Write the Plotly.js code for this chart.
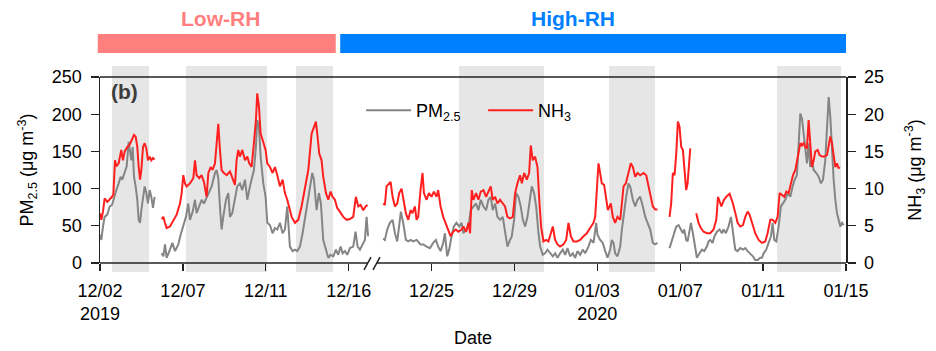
<!DOCTYPE html>
<html>
<head>
<meta charset="utf-8">
<script src="https://cdn.plot.ly/plotly-3.0.1.min.js"></script>
<style>html,body{margin:0;padding:0;background:#fff;}#chart{width:936px;height:351px;}</style>
</head>
<body>
<div id="chart"></div>
<script>
// ---- Tick labels (evenly spaced positions on the axis) ----
const tickPos = [0,1,2,3,4,5,6,7,8,9];
const tickLabels = ['12/02<br>2019','12/07','12/11','12/16','12/25','12/29','01/03<br>2020','01/07','01/11','01/15'];

// ---- PM2.5 (µg m-3), x in axis position units; null = data gap ----
const pmX = [
 0.00,0.016,0.036,0.056,0.088,0.117,0.145,0.169,0.197,0.225,0.249,0.269,0.298,0.322,0.346,0.362,0.378,0.394,0.410,0.430,0.450,0.466,0.483,0.499,0.519,0.539,0.559,0.579,0.599,0.619,0.639,0.659,
 0.70,
 0.744,0.764,0.784,0.804,0.844,0.873,0.905,0.945,0.973,1.005,1.037,1.065,1.085,1.118,1.146,1.166,1.198,1.226,1.254,1.286,1.319,1.347,1.387,1.407,1.427,1.447,1.467,1.487,1.520,1.548,1.568,1.596,1.628,1.656,1.688,1.717,1.749,1.777,1.809,1.837,1.857,1.881,1.897,1.918,1.938,1.970,1.998,2.018,2.050,2.082,2.111,2.139,2.171,2.203,2.231,2.259,2.291,2.324,2.352,2.380,2.412,2.444,2.472,2.500,2.533,2.561,2.581,2.613,2.641,2.665,2.693,2.726,2.754,2.782,2.814,2.846,2.874,2.903,2.927,2.955,2.983,3.015,3.055,3.083,3.108,3.136,3.168,3.196,3.216,3.234,
 3.30,
 3.417,3.437,3.465,3.497,3.530,3.558,3.586,3.610,3.630,3.658,3.690,3.719,3.747,3.779,3.819,3.867,3.899,3.940,3.980,4.020,4.052,4.080,4.109,4.141,4.161,4.189,4.213,4.241,4.269,4.301,4.334,4.362,4.384,4.417,4.445,4.473,4.505,4.537,4.565,4.594,4.626,4.658,4.686,4.714,4.738,4.767,4.795,4.827,4.859,4.887,4.915,4.940,4.968,4.996,5.020,5.048,5.076,5.101,5.129,5.157,5.181,5.209,5.237,5.262,5.290,5.310,5.342,5.370,5.398,5.431,5.463,5.491,5.519,5.551,5.583,5.612,5.640,5.672,5.704,5.732,5.761,5.793,5.825,5.853,5.893,5.922,5.954,5.986,6.002,6.034,6.066,6.095,6.123,6.155,6.175,6.195,6.215,6.243,6.276,6.296,6.324,6.348,6.376,6.396,6.429,6.457,6.485,6.517,6.549,6.578,6.606,6.638,6.670,6.698,6.726,
 6.80,
 6.871,6.899,6.928,6.952,6.980,7.008,7.032,7.048,7.072,7.089,7.113,7.129,7.153,7.177,7.201,7.233,7.262,7.290,7.322,7.342,7.362,7.390,7.414,7.443,7.475,7.503,7.523,7.551,7.583,7.612,7.636,7.664,7.692,7.724,7.757,7.785,7.813,7.845,7.877,7.905,7.934,7.966,7.986,8.006,8.038,8.066,8.095,8.115,8.135,8.159,8.187,8.215,8.239,8.268,8.296,8.328,8.356,8.380,8.408,8.428,8.449,8.469,8.489,8.509,8.529,8.549,8.569,8.589,8.610,8.642,8.670,8.698,8.722,8.750,8.771,8.791,8.811,8.831,8.851,8.871,8.891,8.911,8.932,8.952,8.972
];
const pmVal = [
 38,31,49,62,65,76,78,89,98,107,116,112,121,130,163,150,138,156,116,103,85,58,54,71,85,103,94,80,98,89,74,89,
 null,
 13,9,25,7,18,27,16,25,38,49,62,80,58,69,85,67,76,85,80,87,96,103,121,125,114,76,45,62,85,94,62,67,85,103,107,98,112,85,103,116,125,156,192,183,143,107,89,54,51,40,47,45,54,40,45,76,22,16,18,16,22,40,58,80,103,121,112,71,94,80,31,16,7,11,9,18,11,22,13,16,11,20,22,42,22,18,25,31,62,36,
 null,
 33,31,45,54,58,40,29,49,69,54,31,29,31,29,31,25,25,22,20,27,31,22,16,27,40,9,18,36,49,54,49,54,40,45,49,71,76,80,71,85,76,71,85,89,71,80,62,58,62,40,22,29,36,58,94,89,76,58,49,62,80,103,94,76,40,22,11,13,18,13,9,13,7,13,18,11,20,9,13,7,16,11,18,13,22,31,27,54,38,31,27,16,7,18,31,27,13,9,22,45,71,89,107,103,85,76,85,89,76,62,54,45,27,25,27,
 null,
 20,31,40,49,51,45,40,45,31,29,45,54,40,22,7,13,18,16,22,29,31,27,36,42,45,40,45,40,49,62,40,18,16,20,18,20,16,13,9,4,4,7,7,13,18,27,36,54,31,29,49,76,80,85,94,89,103,112,118,170,201,194,174,161,134,161,129,138,125,121,116,107,112,138,192,223,196,143,112,85,67,58,49,54,51
];

// ---- NH3 (µg m-3), x in axis position units; null = data gap ----
const nh3X = [
 0.00,0.016,0.036,0.056,0.088,0.117,0.145,0.161,0.181,0.197,0.225,0.257,0.277,0.298,0.330,0.358,0.386,0.410,0.430,0.450,0.466,0.483,0.499,0.519,0.539,0.559,0.579,0.599,0.619,0.639,0.659,
 0.70,
 0.744,0.764,0.784,0.804,0.844,0.884,0.925,0.965,0.985,1.005,1.025,1.045,1.085,1.126,1.146,1.166,1.198,1.226,1.254,1.286,1.307,1.335,1.359,1.387,1.407,1.427,1.447,1.467,1.495,1.528,1.568,1.608,1.628,1.648,1.668,1.688,1.717,1.749,1.777,1.801,1.829,1.857,1.881,1.897,1.918,1.938,1.970,1.998,2.018,2.050,2.082,2.111,2.139,2.171,2.203,2.231,2.259,2.283,2.312,2.352,2.392,2.432,2.472,2.513,2.553,2.581,2.605,2.621,2.645,2.673,2.693,2.726,2.754,2.782,2.806,2.834,2.862,2.894,2.935,2.975,3.015,3.055,3.087,3.116,3.144,3.176,3.204,3.228,
 3.30,
 3.417,3.437,3.457,3.485,3.506,3.530,3.558,3.586,3.610,3.638,3.658,3.690,3.719,3.747,3.771,3.799,3.819,3.839,3.867,3.891,3.908,3.940,3.968,4.000,4.028,4.060,4.080,4.109,4.141,4.169,4.201,4.229,4.261,4.293,4.322,4.362,4.384,4.417,4.445,4.465,4.485,4.505,4.537,4.565,4.594,4.626,4.658,4.686,4.714,4.738,4.767,4.795,4.827,4.859,4.887,4.915,4.948,4.980,5.008,5.036,5.068,5.089,5.117,5.149,5.177,5.197,5.221,5.249,5.278,5.302,5.322,5.350,5.382,5.410,5.439,5.463,5.491,5.519,5.551,5.592,5.624,5.652,5.680,5.712,5.753,5.793,5.833,5.873,5.913,5.954,5.974,5.994,6.014,6.034,6.054,6.082,6.107,6.127,6.147,6.163,6.187,6.215,6.243,6.276,6.296,6.316,6.344,6.376,6.404,6.429,6.457,6.485,6.517,6.557,6.590,6.618,6.646,6.670,6.698,6.726,
 6.80,
 6.871,6.891,6.911,6.932,6.952,6.972,6.992,7.012,7.032,7.052,7.072,7.089,7.105,7.121,
 7.16,
 7.193,7.221,7.249,7.282,7.322,7.362,7.402,7.435,7.456,7.496,7.528,7.556,7.596,7.636,7.676,7.692,7.724,7.757,7.785,7.813,7.837,7.865,7.905,7.946,7.986,8.026,8.054,8.087,8.115,8.147,8.175,8.199,8.227,8.256,8.280,8.308,8.336,8.360,8.389,8.409,8.429,8.449,8.469,8.489,8.509,8.529,8.549,8.569,8.589,8.610,8.630,8.658,8.682,8.710,8.738,8.771,8.791,8.811,8.831,8.851,8.871,8.891,8.911,8.923
];
const nh3Val = [
 6.7,5.8,6.9,8.7,8.2,8.5,8.9,9.2,13.8,13.0,13.4,15.2,13.8,15.0,15.6,15.9,16.5,17.2,17.0,15.6,13.0,11.2,12.5,15.6,16.1,15.4,13.8,14.3,13.8,14.1,13.9,
 null,
 5.9,6.2,5.4,4.7,4.9,5.8,6.5,8.0,9.4,11.8,10.7,10.3,10.7,11.4,13.8,11.8,11.4,11.8,10.9,8.9,12.1,12.9,12.5,13.4,16.5,18.7,15.2,12.5,12.1,11.8,12.3,11.2,10.5,13.8,15.2,14.3,15.2,13.8,14.3,13.4,12.9,16.1,19.2,22.8,21.0,17.4,16.1,15.2,13.4,12.9,12.1,12.9,11.8,10.3,11.2,9.4,8.5,7.6,6.2,5.4,5.8,7.6,10.3,12.5,17.4,18.3,19.0,17.4,14.7,13.8,11.6,9.4,8.5,9.6,8.9,8.5,7.4,6.9,6.2,5.8,5.9,6.2,8.9,7.6,7.8,7.1,7.6,7.8,
 null,
 8.0,7.8,10.3,10.7,10.9,8.9,7.6,8.0,9.4,10.0,8.9,6.7,5.8,7.1,6.7,7.6,5.8,6.2,9.8,12.1,9.4,8.5,9.4,8.9,9.6,8.9,9.8,7.6,6.2,5.4,4.5,3.6,4.2,4.5,4.2,4.5,4.9,4.2,5.4,4.0,9.8,8.5,9.4,8.5,9.6,9.8,8.9,9.6,10.3,8.5,8.9,8.0,8.5,8.0,7.6,6.2,6.0,6.2,9.4,10.7,11.8,10.7,12.1,11.2,12.1,15.8,13.8,14.3,12.9,8.0,4.9,2.9,3.1,2.9,4.2,4.9,3.1,2.5,2.2,2.5,3.1,5.4,3.6,2.9,2.9,3.1,3.6,4.0,4.7,5.4,6.2,9.8,13.4,12.1,10.7,10.5,8.5,7.1,7.6,8.0,6.2,5.4,6.2,5.8,8.0,10.3,10.7,12.1,13.4,12.9,11.6,12.1,11.8,12.1,11.8,10.3,8.9,7.6,7.2,7.2,
 null,
 6.2,8.0,12.1,11.8,14.7,19.0,18.3,15.6,15.2,12.5,9.8,10.7,13.8,15.4,
 null,
 6.7,5.4,4.7,4.2,4.0,4.0,4.5,5.8,8.9,7.6,8.5,8.9,9.3,8.0,6.2,5.4,4.9,5.1,6.2,6.9,6.5,5.4,4.0,3.1,2.7,2.9,4.0,5.8,5.8,5.4,6.2,9.4,9.2,8.9,9.6,9.4,10.7,11.8,12.5,13.8,15.2,16.1,15.8,16.1,15.6,15.4,19.2,15.6,12.9,13.8,15.0,15.2,14.5,14.3,14.3,14.5,16.1,17.0,16.1,14.3,12.9,13.4,12.7,12.9
];

// ---- Shaded periods (axis position units) ----
const shadeStart = [0.145, 1.037, 2.365, 4.331, 6.141, 8.168];
const shadeEnd   = [0.591, 2.015, 2.811, 5.357, 6.696, 8.940];

// ---- RH regimes (fraction of plot width) ----
const rhNames  = ['Low-RH', 'High-RH'];
const rhStart  = [-0.003, 0.322];
const rhEnd    = [0.316, 1.0];
const rhColors = ['#ff7f7f', '#0080ff'];

const FONT = 'Arial, "Liberation Sans", Helvetica, sans-serif';

const traces = [
  {x: pmX, y: pmVal, type: 'scatter', mode: 'lines', name: 'PM<sub>2.5</sub>',
   line: {color: '#858585', width: 2}, connectgaps: false, yaxis: 'y'},
  {x: nh3X, y: nh3Val, type: 'scatter', mode: 'lines', name: 'NH<sub>3</sub>',
   line: {color: '#ff1f1f', width: 2}, connectgaps: false, yaxis: 'y2'}
];

const shapes = [];
for (let i = 0; i < shadeStart.length; i++) {
  shapes.push({type: 'rect', layer: 'below', xref: 'x', yref: 'paper',
    x0: shadeStart[i], x1: shadeEnd[i], y0: -0.048, y1: 1.059,
    fillcolor: '#e6e6e6', line: {width: 0}});
}
for (let i = 0; i < rhNames.length; i++) {
  shapes.push({type: 'rect', xref: 'paper', yref: 'paper',
    x0: rhStart[i], x1: rhEnd[i], y0: 1.129, y1: 1.231,
    fillcolor: rhColors[i], line: {width: 0}});
}
// frame: top line and broken bottom axis line
const lineStyle = {color: '#222', width: 1.5};
shapes.push({type: 'line', xref: 'paper', yref: 'paper', x0: 0, x1: 1, y0: 1, y1: 1, line: lineStyle});
shapes.push({type: 'line', xref: 'paper', yref: 'paper', x0: 0, x1: 0.3592, y0: 0, y1: 0, line: lineStyle});
shapes.push({type: 'line', xref: 'paper', yref: 'paper', x0: 0.3713, x1: 1, y0: 0, y1: 0, line: lineStyle});
shapes.push({type: 'line', xref: 'paper', yref: 'paper', x0: 0.3539, x1: 0.3633, y0: -0.037, y1: 0.032, line: lineStyle});
shapes.push({type: 'line', xref: 'paper', yref: 'paper', x0: 0.3660, x1: 0.3753, y0: -0.037, y1: 0.032, line: lineStyle});

const annotations = [
  {text: '<b>(b)</b>', xref: 'paper', yref: 'paper', x: 0.012, y: 0.92, xanchor: 'left', yanchor: 'middle',
   showarrow: false, font: {family: FONT, size: 21, color: '#3c3c3c'}}
];
for (let i = 0; i < rhNames.length; i++) {
  annotations.push({text: '<b>' + rhNames[i] + '</b>', xref: 'paper', yref: 'paper',
    x: [0.162, 0.634][i], y: 1.317, xanchor: 'center', yanchor: 'middle', showarrow: false,
    font: {family: FONT, size: 21, color: rhColors[i]}});
}

const layout = {
  width: 936, height: 351,
  margin: {l: 100, r: 90, t: 77, b: 88, pad: 0},
  paper_bgcolor: '#fff', plot_bgcolor: 'rgba(0,0,0,0)',
  font: {family: FONT, size: 18, color: '#000'},
  showlegend: true,
  legend: {orientation: 'h', x: 0.35, y: 0.82, xanchor: 'left', yanchor: 'middle',
    bgcolor: 'rgba(0,0,0,0)', font: {family: FONT, size: 18, color: '#000'},
    itemwidth: 45, entrywidth: 62, entrywidthmode: 'pixels'},
  xaxis: {range: [0, 9], tickmode: 'array', tickvals: tickPos, ticktext: tickLabels,
    ticks: 'outside', ticklen: 7, tickwidth: 1.3, tickcolor: '#222', ticklabelstandoff: 4,
    showline: false, showgrid: false, zeroline: false,
    tickfont: {family: FONT, size: 18, color: '#000'},
    title: {text: 'Date', font: {family: FONT, size: 18, color: '#000'}, standoff: 8}},
  yaxis: {range: [0, 250], tickvals: [0,50,100,150,200,250], ticks: 'outside', ticklen: 8,
    tickwidth: 1.3, tickcolor: '#222', showline: true, linecolor: '#222', linewidth: 1.5,
    ticklabelstandoff: 5,
    showgrid: false, zeroline: false, tickfont: {family: FONT, size: 18, color: '#000'},
    title: {text: 'PM<sub>2.5</sub> (μg m<sup>-3</sup>)', font: {family: FONT, size: 18, color: '#000'}, standoff: 13}},
  yaxis2: {range: [0, 25], tickvals: [0,5,10,15,20,25], overlaying: 'y', side: 'right',
    ticks: 'outside', ticklen: 8, tickwidth: 1.3, tickcolor: '#222', showline: true,
    ticklabelstandoff: 5,
    linecolor: '#222', linewidth: 1.5, showgrid: false, zeroline: false,
    tickfont: {family: FONT, size: 18, color: '#000'},
    title: {text: 'NH<sub>3</sub> (μg m<sup>-3</sup>)', font: {family: FONT, size: 18, color: '#000'}, standoff: 25}},
  shapes: shapes,
  annotations: annotations
};

Plotly.newPlot('chart', traces, layout, {displayModeBar: false, staticPlot: true});
</script>
</body>
</html>
